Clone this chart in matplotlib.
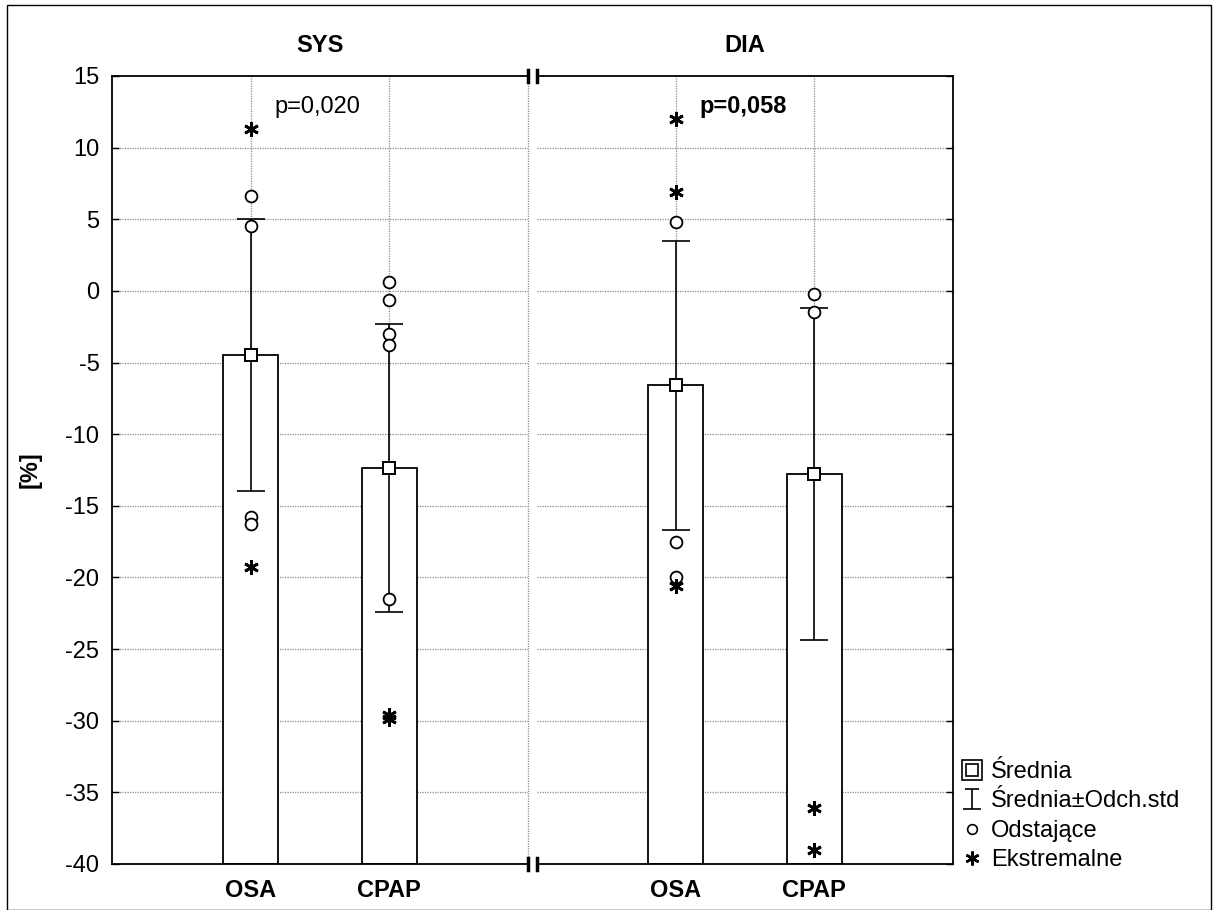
import matplotlib
matplotlib.use("Agg")
import matplotlib.pyplot as plt
from matplotlib.lines import Line2D
from matplotlib.path import Path
from matplotlib.patches import Rectangle

plt.rcParams["font.family"] = ["Liberation Sans", "DejaVu Sans"]
plt.rcParams["font.size"] = 17
plt.rcParams["axes.unicode_minus"] = False

# Change in blood pressure [%], OSA vs CPAP
panels = ["SYS", "DIA"]
categories = ["OSA", "CPAP"]

sys_mean = [-4.45, -12.35]
sys_sd = [9.5, 10.07]
sys_outliers = [[6.6, 4.5, -15.8, -16.3], [0.6, -0.6, -3.0, -3.8, -21.5]]
sys_extremes = [[11.3, -19.3], [-29.6, -29.9]]

dia_mean = [-6.6, -12.8]
dia_sd = [10.1, 11.6]
dia_outliers = [[4.8, -17.5, -20.0], [-0.25, -1.5]]
dia_extremes = [[12.0, 6.9, -20.6], [-36.1, -39.0]]

p_labels = ["p=0,020", "p=0,058"]
p_weights = ["normal", "bold"]

y_ticks = list(range(-40, 20, 5))
Y_MIN, Y_MAX = -40, 15

W, H = 1213, 910
fig = plt.figure(figsize=(W / 100, H / 100), dpi=100)

ax_w = 416 / W
ax_b = 1 - 864 / H
ax_h = (864 - 76) / H
ax_left = fig.add_axes([112 / W, ax_b, ax_w, ax_h])
ax_right = fig.add_axes([537 / W, ax_b, ax_w, ax_h])

asterisk = (6, 2, 0)
grid_kw = dict(color="#8c8c8c", linestyle=(0, (1, 1)), linewidth=0.9)

data = [
    (sys_mean, sys_sd, sys_outliers, sys_extremes),
    (dia_mean, dia_sd, dia_outliers, dia_extremes),
]

for i, (ax, name, (mean, sd, outl, extr)) in enumerate(zip([ax_left, ax_right], panels, data)):
    x = list(range(len(categories)))
    ax.set_xlim(-1, 2)
    ax.set_ylim(Y_MIN, Y_MAX)

    for yv in y_ticks[1:-1]:
        ax.axhline(yv, zorder=0, **grid_kw)
    for xv in x:
        ax.axvline(xv, zorder=0, **grid_kw)

    ax.bar(x, [m - Y_MIN for m in mean], bottom=Y_MIN, width=0.4,
           color="white", edgecolor="black", linewidth=1.3, zorder=2)
    ax.errorbar(x, mean, yerr=sd, fmt="none", ecolor="black", elinewidth=1.2,
                capsize=10, capthick=1.2, zorder=3)
    ax.plot(x, mean, "s", ms=8.5, mfc="white", mec="black", mew=1.4, zorder=4)

    for xv, vals in zip(x, outl):
        ax.plot([xv] * len(vals), vals, "o", ms=8.5, mfc="white", mec="black",
                mew=1.3, zorder=4)
    for xv, vals in zip(x, extr):
        ax.plot([xv] * len(vals), vals, marker=asterisk, ls="none", ms=10.5,
                mec="black", mew=2.0, zorder=4)

    ax.set_xticks(x)
    ax.set_xticklabels(categories, fontweight="bold")
    ax.set_yticks(y_ticks)
    ax.tick_params(axis="both", direction="in", length=5, width=1, pad=11)
    ax.tick_params(axis="y", pad=9)

    ax.text(0.5, 1.039, name, transform=ax.transAxes, ha="center", va="center",
            fontweight="bold")
    ax.text(0.175, 12.85, p_labels[i], ha="left", va="center",
            fontweight=p_weights[i])

    for s in ax.spines.values():
        s.set_linewidth(1.3)

# left panel: y labels on the left, dotted right edge
ax_left.spines["right"].set_visible(False)
ax_left.axvline(2, zorder=0, clip_on=False, **grid_kw)
ax_left.set_ylabel("[%]", fontweight="bold")
ax_left.yaxis.set_label_coords(-0.17, 0.5)

# right panel: ticks on the right, no left edge
ax_right.spines["left"].set_visible(False)
ax_right.yaxis.tick_right()
ax_right.tick_params(axis="y", labelright=False, labelleft=False)

# break marks between panels
d = 0.008
for ax, xe in [(ax_left, 1), (ax_right, 0)]:
    for ye in (0, 1):
        ax.plot([xe, xe], [ye - d, ye + d], transform=ax.transAxes, color="black",
                lw=2.5, clip_on=False, zorder=5)

# legend
ibeam = Path([(-0.9, -1), (0.9, -1), (0, -1), (0, 1), (-0.7, 1), (0.7, 1)],
             [Path.MOVETO, Path.LINETO, Path.MOVETO, Path.LINETO, Path.MOVETO, Path.LINETO])
h_mean = (Line2D([], [], marker="s", ms=14, mfc="white", mec="black", mew=1.2, ls="none"),
          Line2D([], [], marker="s", ms=8, mfc="white", mec="black", mew=1.2, ls="none"))
h_sd = Line2D([], [], marker=ibeam, ms=15, mec="black", mew=1.2, ls="none")
h_out = Line2D([], [], marker="o", ms=7, mfc="white", mec="black", mew=1.2, ls="none")
h_ext = Line2D([], [], marker=asterisk, ms=10, mec="black", mew=1.8, ls="none")
fig.legend([h_mean, h_sd, h_out, h_ext],
           ["Średnia", "Średnia±Odch.std", "Odstające", "Ekstremalne"],
           loc="lower left", bbox_to_anchor=(944 / W, 1 - 888 / H),
           frameon=False, handlelength=1.0, handletextpad=0.3,
           labelspacing=0.32, borderpad=0.2)

# outer frame
fig.add_artist(Rectangle((7 / W, 0), (1211 - 7) / W, 1 - 5 / H, transform=fig.transFigure,
                         fill=False, edgecolor="black", linewidth=1))

fig.savefig("out.png", dpi=100)
